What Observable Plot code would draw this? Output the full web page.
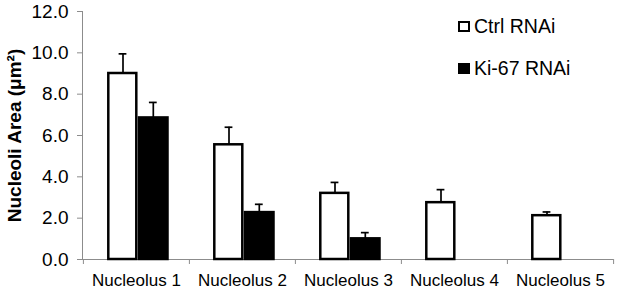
<!DOCTYPE html>
<html><head><meta charset="utf-8">
<script src="https://cdn.jsdelivr.net/npm/d3@7"></script>
<script src="https://cdn.jsdelivr.net/npm/@observablehq/plot@0.6"></script>
<style>
body{margin:0;background:#fff;}
#wrap{position:relative;width:617px;height:290px;font-family:Arial,"Liberation Sans",sans-serif;}
.leg{position:absolute;left:458px;display:flex;align-items:center;font-size:19.5px;line-height:1;color:#000;}
.sw{width:12px;height:11px;box-sizing:border-box;border:2.5px solid #000;margin-right:4px;}
</style></head><body><div id="wrap"></div>
<script>
const categories = ["Nucleolus 1", "Nucleolus 2", "Nucleolus 3", "Nucleolus 4", "Nucleolus 5"];
const seriesNames = ["Ctrl RNAi", "Ki-67 RNAi"];
const ctrlValues = [9.0, 5.55, 3.2, 2.75, 2.12];
const ctrlErrors = [0.95, 0.85, 0.53, 0.63, 0.18];
const ki67Values = [6.85, 2.27, 1.0, null, null];
const ki67Errors = [0.75, 0.4, 0.3, null, null];
const yTicks = [0, 2, 4, 6, 8, 10, 12];
const yLabel = "Nucleoli Area (μm²)";

const ctrlRows = categories.map((c, i) => ({category: c, value: ctrlValues[i], err: ctrlErrors[i]}));
const kiRows = categories.map((c, i) => ({category: c, value: ki67Values[i], err: ki67Errors[i]})).filter(d => d.value != null);

const W = 617, H = 290, mL = 82, mR = 4, mT = 11, mB = 31;
const bw = (W - mL - mR) / categories.length;
const gray = "#8c8c8c";

const chart = Plot.plot({
  width: W, height: H,
  marginLeft: mL, marginRight: mR, marginTop: mT, marginBottom: mB,
  style: {fontFamily: "Arial, 'Liberation Sans', sans-serif", background: "#fff"},
  x: {type: "band", domain: categories, padding: 0},
  y: {domain: [0, 12]},
  marks: [
    Plot.frame({anchor: "left", stroke: gray}),
    Plot.ruleY([0], {stroke: gray}),
    Plot.axisX(categories, {tickSize: 5, dx: -bw / 2, stroke: gray, tickFormat: () => "", label: null}),
    Plot.axisX([categories[categories.length - 1]], {tickSize: 5, dx: bw / 2, stroke: gray, tickFormat: () => "", label: null}),
    Plot.axisX(categories, {tickSize: 0, tickPadding: 14, fontSize: 17, fill: "#000", label: null}),
    Plot.axisY(yTicks, {tickSize: 5, tickPadding: 9, stroke: gray, fill: "#000", fontSize: 19, tickFormat: d3.format(".1f"), label: null}),
    Plot.axisY({ticks: [], tickSize: 0, label: yLabel, labelAnchor: "center", labelArrow: "none", labelOffset: 75, fontSize: 19, fontWeight: "bold", fill: "#000"}),
    Plot.ruleX(ctrlRows, {x: "category", y1: "value", y2: d => d.value + d.err, dx: -13.5, stroke: "#000", strokeWidth: 1.7}),
    Plot.tickY(ctrlRows, {x: "category", y: d => d.value + d.err, dx: -13.5, insetLeft: (bw - 8) / 2, insetRight: (bw - 8) / 2, stroke: "#000", strokeWidth: 1.7}),
    Plot.ruleX(kiRows, {x: "category", y1: "value", y2: d => d.value + d.err, dx: 16.8, stroke: "#000", strokeWidth: 1.7}),
    Plot.tickY(kiRows, {x: "category", y: d => d.value + d.err, dx: 16.8, insetLeft: (bw - 8) / 2, insetRight: (bw - 8) / 2, stroke: "#000", strokeWidth: 1.7}),
    Plot.barY(ctrlRows, {x: "category", y: "value", fill: "#fff", stroke: "#000", strokeWidth: 2.5, insetLeft: 25.3, insetRight: 52.7}),
    Plot.barY(kiRows, {x: "category", y: "value", fill: "#000", stroke: "#000", strokeWidth: 2.5, insetLeft: 56, insetRight: 21.5})
  ]
});
const wrap = document.getElementById("wrap");
wrap.appendChild(chart);
const legTops = [17, 59];
seriesNames.forEach((name, i) => {
  const row = document.createElement("div");
  row.className = "leg";
  row.style.top = legTops[i] + "px";
  const sw = document.createElement("span");
  sw.className = "sw";
  sw.style.background = i === 0 ? "#fff" : "#000";
  const t = document.createElement("span");
  t.textContent = name;
  row.appendChild(sw); row.appendChild(t);
  wrap.appendChild(row);
});
</script></body></html>
